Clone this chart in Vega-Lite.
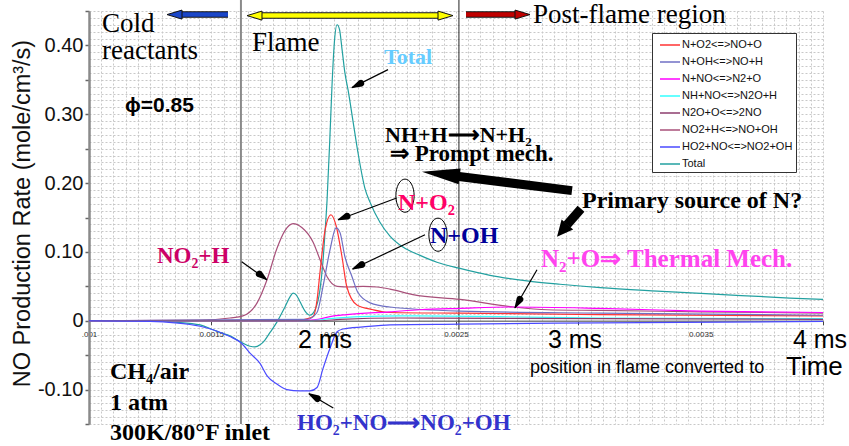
{
  "$schema": "https://vega.github.io/schema/vega-lite/v6.json",
  "width": 734,
  "height": 413,
  "autosize": {"type": "none"},
  "padding": {"left": 89, "top": 11, "right": 26, "bottom": 22},
  "background": "white",
  "config": {"view": {"stroke": null}},
  "datasets": {
    "curves": [
      {"s":"Total","t":0.001,"v":0},{"s":"Total","t":0.00125,"v":0},{"s":"Total","t":0.001351,"v":-0.002},{"s":"Total","t":0.001454,"v":-0.006},{"s":"Total","t":0.001507,"v":-0.013},{"s":"Total","t":0.001535,"v":-0.017},{"s":"Total","t":0.001576,"v":-0.022},{"s":"Total","t":0.001621,"v":-0.031},{"s":"Total","t":0.001658,"v":-0.037},{"s":"Total","t":0.001678,"v":-0.038},{"s":"Total","t":0.001699,"v":-0.035},{"s":"Total","t":0.001719,"v":-0.028},{"s":"Total","t":0.00174,"v":-0.017},{"s":"Total","t":0.001768,"v":-0.002},{"s":"Total","t":0.001801,"v":0.02},{"s":"Total","t":0.001822,"v":0.035},{"s":"Total","t":0.001834,"v":0.04},{"s":"Total","t":0.001846,"v":0.038},{"s":"Total","t":0.001862,"v":0.028},{"s":"Total","t":0.001883,"v":0.014},{"s":"Total","t":0.001903,"v":0.008},{"s":"Total","t":0.001924,"v":0.016},{"s":"Total","t":0.001944,"v":0.045},{"s":"Total","t":0.001956,"v":0.085},{"s":"Total","t":0.001965,"v":0.13},{"s":"Total","t":0.001973,"v":0.175},{"s":"Total","t":0.001985,"v":0.27},{"s":"Total","t":0.001993,"v":0.34},{"s":"Total","t":0.002003,"v":0.405},{"s":"Total","t":0.002014,"v":0.43},{"s":"Total","t":0.002024,"v":0.423},{"s":"Total","t":0.002034,"v":0.395},{"s":"Total","t":0.002046,"v":0.36},{"s":"Total","t":0.002059,"v":0.335},{"s":"Total","t":0.002079,"v":0.29},{"s":"Total","t":0.002099,"v":0.245},{"s":"Total","t":0.002128,"v":0.192},{"s":"Total","t":0.002149,"v":0.172},{"s":"Total","t":0.002189,"v":0.143},{"s":"Total","t":0.00223,"v":0.123},{"s":"Total","t":0.002283,"v":0.107},{"s":"Total","t":0.002353,"v":0.095},{"s":"Total","t":0.002422,"v":0.085},{"s":"Total","t":0.002516,"v":0.076},{"s":"Total","t":0.002639,"v":0.066},{"s":"Total","t":0.00279,"v":0.058},{"s":"Total","t":0.002925,"v":0.053},{"s":"Total","t":0.003089,"v":0.048},{"s":"Total","t":0.003322,"v":0.043},{"s":"Total","t":0.003591,"v":0.038},{"s":"Total","t":0.003865,"v":0.033},{"s":"Total","t":0.004,"v":0.031},

      {"s":"NO2+H<=>NO+OH","t":0.001,"v":0},{"s":"NO2+H<=>NO+OH","t":0.001454,"v":0.001},{"s":"NO2+H<=>NO+OH","t":0.001576,"v":0.004},{"s":"NO2+H<=>NO+OH","t":0.001629,"v":0.007},{"s":"NO2+H<=>NO+OH","t":0.001687,"v":0.026},{"s":"NO2+H<=>NO+OH","t":0.001728,"v":0.06},{"s":"NO2+H<=>NO+OH","t":0.001768,"v":0.105},{"s":"NO2+H<=>NO+OH","t":0.001801,"v":0.131},{"s":"NO2+H<=>NO+OH","t":0.001834,"v":0.141},{"s":"NO2+H<=>NO+OH","t":0.001871,"v":0.135},{"s":"NO2+H<=>NO+OH","t":0.001916,"v":0.114},{"s":"NO2+H<=>NO+OH","t":0.001944,"v":0.089},{"s":"NO2+H<=>NO+OH","t":0.001973,"v":0.064},{"s":"NO2+H<=>NO+OH","t":0.002014,"v":0.05},{"s":"NO2+H<=>NO+OH","t":0.002067,"v":0.049},{"s":"NO2+H<=>NO+OH","t":0.00212,"v":0.05},{"s":"NO2+H<=>NO+OH","t":0.002177,"v":0.049},{"s":"NO2+H<=>NO+OH","t":0.00223,"v":0.046},{"s":"NO2+H<=>NO+OH","t":0.002324,"v":0.038},{"s":"NO2+H<=>NO+OH","t":0.002516,"v":0.031},{"s":"NO2+H<=>NO+OH","t":0.002733,"v":0.02},{"s":"NO2+H<=>NO+OH","t":0.002872,"v":0.016},{"s":"NO2+H<=>NO+OH","t":0.003089,"v":0.015},{"s":"NO2+H<=>NO+OH","t":0.003497,"v":0.013},{"s":"NO2+H<=>NO+OH","t":0.004,"v":0.011},

      {"s":"N+O2<=>NO+O","t":0.001,"v":0},{"s":"N+O2<=>NO+O","t":0.00185,"v":0},{"s":"N+O2<=>NO+O","t":0.001883,"v":0.002},{"s":"N+O2<=>NO+O","t":0.001916,"v":0.006},{"s":"N+O2<=>NO+O","t":0.001932,"v":0.03},{"s":"N+O2<=>NO+O","t":0.001944,"v":0.07},{"s":"N+O2<=>NO+O","t":0.001965,"v":0.132},{"s":"N+O2<=>NO+O","t":0.001989,"v":0.154},{"s":"N+O2<=>NO+O","t":0.00201,"v":0.138},{"s":"N+O2<=>NO+O","t":0.002034,"v":0.093},{"s":"N+O2<=>NO+O","t":0.002054,"v":0.049},{"s":"N+O2<=>NO+O","t":0.002095,"v":0.023},{"s":"N+O2<=>NO+O","t":0.002161,"v":0.016},{"s":"N+O2<=>NO+O","t":0.00223,"v":0.012},{"s":"N+O2<=>NO+O","t":0.002516,"v":0.011},{"s":"N+O2<=>NO+O","t":0.003089,"v":0.009},{"s":"N+O2<=>NO+O","t":0.004,"v":0.007},

      {"s":"N+OH<=>NO+H","t":0.001,"v":0},{"s":"N+OH<=>NO+H","t":0.001891,"v":0.002},{"s":"N+OH<=>NO+H","t":0.001932,"v":0.012},{"s":"N+OH<=>NO+H","t":0.001956,"v":0.049},{"s":"N+OH<=>NO+H","t":0.001985,"v":0.103},{"s":"N+OH<=>NO+H","t":0.00201,"v":0.135},{"s":"N+OH<=>NO+H","t":0.002026,"v":0.128},{"s":"N+OH<=>NO+H","t":0.002046,"v":0.093},{"s":"N+OH<=>NO+H","t":0.002075,"v":0.064},{"s":"N+OH<=>NO+H","t":0.002099,"v":0.041},{"s":"N+OH<=>NO+H","t":0.002149,"v":0.026},{"s":"N+OH<=>NO+H","t":0.00223,"v":0.02},{"s":"N+OH<=>NO+H","t":0.002516,"v":0.014},{"s":"N+OH<=>NO+H","t":0.003089,"v":0.011},{"s":"N+OH<=>NO+H","t":0.004,"v":0.008},

      {"s":"N+NO<=>N2+O","t":0.001,"v":0},{"s":"N+NO<=>N2+O","t":0.001862,"v":0},{"s":"N+NO<=>N2+O","t":0.001936,"v":0.002},{"s":"N+NO<=>N2+O","t":0.001985,"v":0.006},{"s":"N+NO<=>N2+O","t":0.002054,"v":0.009},{"s":"N+NO<=>N2+O","t":0.00223,"v":0.013},{"s":"N+NO<=>N2+O","t":0.002353,"v":0.016},{"s":"N+NO<=>N2+O","t":0.002516,"v":0.018},{"s":"N+NO<=>N2+O","t":0.002733,"v":0.02},{"s":"N+NO<=>N2+O","t":0.003089,"v":0.018},{"s":"N+NO<=>N2+O","t":0.003497,"v":0.014},{"s":"N+NO<=>N2+O","t":0.004,"v":0.012},

      {"s":"NH+NO<=>N2O+H","t":0.001,"v":0},{"s":"NH+NO<=>N2O+H","t":0.001903,"v":0},{"s":"NH+NO<=>N2O+H","t":0.001985,"v":0.003},{"s":"NH+NO<=>N2O+H","t":0.002108,"v":0.006},{"s":"NH+NO<=>N2O+H","t":0.002271,"v":0.007},{"s":"NH+NO<=>N2O+H","t":0.00268,"v":0.006},{"s":"NH+NO<=>N2O+H","t":0.003089,"v":0.004},{"s":"NH+NO<=>N2O+H","t":0.004,"v":0.003},

      {"s":"N2O+O<=>2NO","t":0.001,"v":0},{"s":"N2O+O<=>2NO","t":0.001944,"v":0},{"s":"N2O+O<=>2NO","t":0.002026,"v":0.002},{"s":"N2O+O<=>2NO","t":0.002271,"v":0.004},{"s":"N2O+O<=>2NO","t":0.003089,"v":0.003},{"s":"N2O+O<=>2NO","t":0.004,"v":0.002},

      {"s":"HO2+NO<=>NO2+OH","t":0.001,"v":0},{"s":"HO2+NO<=>NO2+OH","t":0.00125,"v":-0.001},{"s":"HO2+NO<=>NO2+OH","t":0.001351,"v":-0.003},{"s":"HO2+NO<=>NO2+OH","t":0.001454,"v":-0.008},{"s":"HO2+NO<=>NO2+OH","t":0.001507,"v":-0.013},{"s":"HO2+NO<=>NO2+OH","t":0.001576,"v":-0.023},{"s":"HO2+NO<=>NO2+OH","t":0.001621,"v":-0.032},{"s":"HO2+NO<=>NO2+OH","t":0.001658,"v":-0.047},{"s":"HO2+NO<=>NO2+OH","t":0.001699,"v":-0.062},{"s":"HO2+NO<=>NO2+OH","t":0.001728,"v":-0.08},{"s":"HO2+NO<=>NO2+OH","t":0.001768,"v":-0.092},{"s":"HO2+NO<=>NO2+OH","t":0.001809,"v":-0.1},{"s":"HO2+NO<=>NO2+OH","t":0.001862,"v":-0.102},{"s":"HO2+NO<=>NO2+OH","t":0.001903,"v":-0.102},{"s":"HO2+NO<=>NO2+OH","t":0.001932,"v":-0.097},{"s":"HO2+NO<=>NO2+OH","t":0.001956,"v":-0.07},{"s":"HO2+NO<=>NO2+OH","t":0.001985,"v":-0.04},{"s":"HO2+NO<=>NO2+OH","t":0.002014,"v":-0.016},{"s":"HO2+NO<=>NO2+OH","t":0.002038,"v":-0.012},{"s":"HO2+NO<=>NO2+OH","t":0.00212,"v":-0.009},{"s":"HO2+NO<=>NO2+OH","t":0.00223,"v":-0.006},{"s":"HO2+NO<=>NO2+OH","t":0.002516,"v":-0.005},{"s":"HO2+NO<=>NO2+OH","t":0.003089,"v":-0.003},{"s":"HO2+NO<=>NO2+OH","t":0.004,"v":-0.001}
    ],
    "shafts": [
      {"t":0.0020749,"v":0.3387,"t2":0.0022221,"v2":0.3648},
      {"t":0.0020189,"v":0.1468,"t2":0.0022576,"v2":0.1783},
      {"t":0.0020778,"v":0.0751,"t2":0.0023733,"v2":0.125},
      {"t":0.0017263,"v":0.0596,"t2":0.0016241,"v2":0.0858},
      {"t":0.0018992,"v":-0.1061,"t2":0.0019985,"v2":-0.1269},
      {"t":0.0027411,"v":0.0189,"t2":0.0028311,"v2":0.0741}
    ],
    "heads": [
      {"id":"a1","p":"tip","t":0.0020749,"v":0.3387},{"id":"a1","p":"base","t":0.0021103,"v":0.3449},
      {"id":"a2","p":"tip","t":0.0020189,"v":0.1468},{"id":"a2","p":"base","t":0.0020543,"v":0.1517},
      {"id":"a3","p":"tip","t":0.0020778,"v":0.0751},{"id":"a3","p":"base","t":0.0021146,"v":0.0816},
      {"id":"a4","p":"tip","t":0.0017263,"v":0.0596},{"id":"a4","p":"base","t":0.0016964,"v":0.0678},
      {"id":"a5","p":"tip","t":0.0018992,"v":-0.1061},{"id":"a5","p":"base","t":0.001933,"v":-0.1131},
      {"id":"a6","p":"tip","t":0.0027411,"v":0.0189},{"id":"a6","p":"base","t":0.0027608,"v":0.0309}
    ],
    "bigshafts": [
      {"t":0.0025041,"v":0.2099,"t2":0.0029741,"v2":0.189},
      {"t":0.0029537,"v":0.1395,"t2":0.0030109,"v2":0.1628}
    ],
    "topshafts": [
      {"id":"blue","t":0.001376,"v":0.4448,"t2":0.0015681,"v2":0.4448},
      {"id":"yellow","t":0.001703,"v":0.4433,"t2":0.0024305,"v2":0.4433},
      {"id":"red","t":0.0025409,"v":0.4448,"t2":0.0027452,"v2":0.4448}
    ]
  },
  "encoding": {
    "x": {
      "field": "t", "type": "quantitative",
      "scale": {"domain": [0.001, 0.004], "nice": false, "zero": false},
      "axis": {
        "orient": "bottom", "offset": -103.25, "tickCount": 60, "title": null,
        "grid": true, "gridColor": "#c8c8c8", "gridDash": [2, 2], "gridWidth": 1,
        "domainColor": "#808080", "domainWidth": 1.5,
        "tickColor": "#444", "tickWidth": 1,
        "tickSize": {"condition": {"test": "abs(round(datum.value*20000)) % 10 == 0", "value": 4}, "value": 0},
        "labelExpr": "abs(datum.value-0.001)<1e-9 ? '.001' : abs(datum.value-0.0015)<1e-9 ? '0.0015' : abs(datum.value-0.002)<1e-9 ? '0.002' : abs(datum.value-0.0025)<1e-9 ? '0.0025' : abs(datum.value-0.0035)<1e-9 ? '0.0035' : ''",
        "labelFont": "Liberation Sans", "labelFontSize": 8, "labelColor": "#333",
        "labelPadding": 6, "labelFlush": false, "labelOverlap": false
      }
    },
    "y": {
      "field": "v", "type": "quantitative",
      "scale": {"domain": [-0.15, 0.45], "nice": false, "zero": false},
      "axis": {
        "tickCount": 60,
        "grid": true, "gridColor": "#c8c8c8", "gridDash": [2, 2], "gridWidth": 1,
        "domainColor": "#8a8a8a", "domainWidth": 2.5,
        "tickColor": "#666", "tickWidth": 1.5,
        "tickSize": {"condition": {"test": "abs(round(datum.value*100)) % 5 == 0", "value": 4}, "value": 0},
        "labelExpr": "abs(datum.value) < 1e-9 ? '0' : (abs(round(datum.value*100)) % 10 == 0 ? replace(format(datum.value, '.2f'), '\u2212', '-') : '')",
        "labelFont": "Liberation Sans", "labelFontSize": 20, "labelColor": "#111",
        "labelPadding": 2, "labelOverlap": false, "labelFlush": false,
        "title": "NO Production Rate (mole/cm³/s)",
        "titleFont": "Liberation Sans", "titleFontSize": 23.5, "titleFontWeight": "normal", "titleColor": "#111",
        "titleX": -67, "titleY": 202, "titleAngle": -90, "titleBaseline": "middle", "titleAlign": "center"
      }
    }
  },
  "layer": [
    {
      "data": {"values": [{"t": 0.001621, "v": -0.15, "v2": 0.466}]},
      "mark": {"type": "rule", "color": "#8a8a8a", "strokeWidth": 2},
      "encoding": {"y2": {"field": "v2"}}
    },
    {
      "data": {"values": [{"t": 0.002512, "v": -0.013, "v2": 0.466}]},
      "mark": {"type": "rule", "color": "#222", "strokeWidth": 1},
      "encoding": {"y2": {"field": "v2"}}
    },
    {
      "data": {"name": "curves"},
      "mark": {"type": "line", "strokeWidth": 1.2, "interpolate": "monotone"},
      "encoding": {
        "color": {
          "field": "s", "type": "nominal",
          "scale": {
            "domain": ["N+O2<=>NO+O", "N+OH<=>NO+H", "N+NO<=>N2+O", "NH+NO<=>N2O+H", "N2O+O<=>2NO", "NO2+H<=>NO+OH", "HO2+NO<=>NO2+OH", "Total"],
            "range": ["#ff3333", "#6f6fc4", "#ff00ff", "#33ffff", "#8c3c6e", "#a8507a", "#4a4aff", "#22a0a0"]
          },
          "legend": {
            "orient": "none", "legendX": 563, "legendY": 22, "title": null,
            "symbolType": "M-1.25,0H1.25", "symbolSize": 256, "symbolStrokeWidth": 1.5,
            "labelFont": "Liberation Sans", "labelFontSize": 11, "labelColor": "#111",
            "strokeColor": "#333", "fillColor": "white", "padding": 3, "rowPadding": 3,
            "labelOffset": 3, "symbolOffset": 6
          }
        }
      }
    },
    {
      "data": {"name": "shafts"},
      "mark": {"type": "rule", "color": "black", "strokeWidth": 1.2},
      "encoding": {"x2": {"field": "t2"}, "y2": {"field": "v2"}}
    },
    {
      "data": {"name": "heads"},
      "mark": {"type": "trail", "color": "black"},
      "encoding": {
        "detail": {"field": "id"},
        "size": {"field": "p", "type": "ordinal", "scale": {"type": "point", "padding": 0, "domain": ["tip", "base"], "range": [0, 7]}, "legend": null}
      }
    },
    {
      "data": {"name": "bigshafts"},
      "mark": {"type": "rule", "color": "black", "strokeWidth": 9, "strokeCap": "butt"},
      "encoding": {"x2": {"field": "t2"}, "y2": {"field": "v2"}}
    },
    {
      "data": {"values": [{"t": 0.0024379, "v": 0.2131}]},
      "mark": {"type": "point", "shape": "M1,0L-1,-0.42L-1,0.42Z", "size": 1444, "angle": 187.2, "filled": true, "color": "black", "opacity": 1, "strokeWidth": 0}
    },
    {
      "data": {"values": [{"t": 0.002934, "v": 0.131}]},
      "mark": {"type": "point", "shape": "M1,0L-1,-0.95L-1,0.95Z", "size": 256, "angle": 130.4, "filled": true, "color": "black", "opacity": 1, "strokeWidth": 0}
    },
    {
      "data": {"name": "topshafts"},
      "mark": {"type": "rule", "color": "#111", "strokeWidth": 6.5, "strokeCap": "butt"},
      "encoding": {"x2": {"field": "t2"}, "y2": {"field": "v2"}}
    },
    {
      "data": {"name": "topshafts"},
      "transform": [{"filter": "datum.id == 'blue'"}],
      "mark": {"type": "rule", "color": "#1a46c8", "strokeWidth": 4.5, "strokeCap": "butt"},
      "encoding": {"x2": {"field": "t2"}, "y2": {"field": "v2"}}
    },
    {
      "data": {"name": "topshafts"},
      "transform": [{"filter": "datum.id == 'yellow'"}],
      "mark": {"type": "rule", "color": "#ffff00", "strokeWidth": 4.5, "strokeCap": "butt"},
      "encoding": {"x2": {"field": "t2"}, "y2": {"field": "v2"}}
    },
    {
      "data": {"name": "topshafts"},
      "transform": [{"filter": "datum.id == 'red'"}],
      "mark": {"type": "rule", "color": "#c00000", "strokeWidth": 4.5, "strokeCap": "butt"},
      "encoding": {"x2": {"field": "t2"}, "y2": {"field": "v2"}}
    },
    {
      "data": {"values": [{"t": 0.0013495, "v": 0.4448}]},
      "mark": {"type": "point", "shape": "M1,0L-1,-0.6L-1,0.6Z", "size": 225, "angle": 180, "filled": true, "fill": "#1a46c8", "stroke": "#111", "strokeWidth": 1, "opacity": 1}
    },
    {
      "data": {"values": [{"t": 0.0016764, "v": 0.4433}]},
      "mark": {"type": "point", "shape": "M1,0L-1,-0.6L-1,0.6Z", "size": 225, "angle": 180, "filled": true, "fill": "#ffff00", "stroke": "#111", "strokeWidth": 1, "opacity": 1}
    },
    {
      "data": {"values": [{"t": 0.0024571, "v": 0.4433}]},
      "mark": {"type": "point", "shape": "M1,0L-1,-0.6L-1,0.6Z", "size": 225, "angle": 0, "filled": true, "fill": "#ffff00", "stroke": "#111", "strokeWidth": 1, "opacity": 1}
    },
    {
      "data": {"values": [{"t": 0.0027718, "v": 0.4448}]},
      "mark": {"type": "point", "shape": "M1,0L-1,-0.6L-1,0.6Z", "size": 225, "angle": 0, "filled": true, "fill": "#c00000", "stroke": "#111", "strokeWidth": 1, "opacity": 1}
    },
    {
      "data": {"values": [{"t": 0.0022916, "v": 0.1817}, {"t": 0.0024264, "v": 0.125}]},
      "mark": {"type": "point", "shape": "M-0.55,0A0.55,1,0,1,0,0.55,0A0.55,1,0,1,0,-0.55,0Z", "size": 1100, "filled": false, "stroke": "black", "strokeWidth": 1, "opacity": 1}
    },
    {
      "data": {"values": [
        {"label": "Cold", "t": 0.0010531, "v": 0.4201},
        {"label": "reactants", "t": 0.0010531, "v": 0.3808},
        {"label": "Flame", "t": 0.0016662, "v": 0.3924},
        {"label": "Post-flame region", "t": 0.0028147, "v": 0.4331}
      ]},
      "mark": {"type": "text", "font": "Liberation Serif", "fontSize": 27, "color": "black", "align": "left", "baseline": "alphabetic"},
      "encoding": {"text": {"field": "label"}}
    },
    {
      "data": {"values": [{"label": "ϕ=0.85", "t": 0.0011471, "v": 0.3038}]},
      "mark": {"type": "text", "font": "Liberation Sans", "fontSize": 21, "fontWeight": "bold", "color": "black", "align": "left", "baseline": "alphabetic"},
      "encoding": {"text": {"field": "label"}}
    },
    {
      "data": {"values": [
        {"label": "NH+H⟶N+H₂", "t": 0.0022098, "v": 0.2602}
      ]},
      "mark": {"type": "text", "font": "Liberation Serif", "fontSize": 22, "fontWeight": "bold", "color": "black", "align": "left", "baseline": "alphabetic"},
      "encoding": {"text": {"field": "label"}}
    },
    {
      "data": {"values": [
        {"label": "⇒ Prompt mech.", "t": 0.0022302, "v": 0.2326}
      ]},
      "mark": {"type": "text", "font": "Liberation Serif", "fontSize": 23, "fontWeight": "bold", "color": "black", "align": "left", "baseline": "alphabetic"},
      "encoding": {"text": {"field": "label"}}
    },
    {
      "data": {"values": [
        {"label": "Primary source of N?", "t": 0.003015, "v": 0.1642}
      ]},
      "mark": {"type": "text", "font": "Liberation Serif", "fontSize": 24, "fontWeight": "bold", "color": "black", "align": "left", "baseline": "alphabetic"},
      "encoding": {"text": {"field": "label"}}
    },
    {
      "data": {"values": [
        {"label": "CH₄/air", "t": 0.0010858, "v": -0.0843},
        {"label": "1 atm", "t": 0.0010858, "v": -0.1294},
        {"label": "300K/80°F inlet", "t": 0.0010858, "v": -0.173}
      ]},
      "mark": {"type": "text", "font": "Liberation Serif", "fontSize": 24, "fontWeight": "bold", "color": "black", "align": "left", "baseline": "alphabetic"},
      "encoding": {"text": {"field": "label"}}
    },
    {
      "data": {"values": [{"label": "Total", "t": 0.0022057, "v": 0.3735}]},
      "mark": {"type": "text", "font": "Liberation Serif", "fontSize": 22, "fontWeight": "bold", "color": "#66ccff", "align": "left", "baseline": "alphabetic"},
      "encoding": {"text": {"field": "label"}}
    },
    {
      "data": {"values": [{"label": "N+O₂", "t": 0.002263, "v": 0.1613}]},
      "mark": {"type": "text", "font": "Liberation Serif", "fontSize": 24, "fontWeight": "bold", "color": "#ff0066", "align": "left", "baseline": "alphabetic"},
      "encoding": {"text": {"field": "label"}}
    },
    {
      "data": {"values": [{"label": "N+OH", "t": 0.0023937, "v": 0.1134}]},
      "mark": {"type": "text", "font": "Liberation Serif", "fontSize": 24, "fontWeight": "bold", "color": "#000099", "align": "left", "baseline": "alphabetic"},
      "encoding": {"text": {"field": "label"}}
    },
    {
      "data": {"values": [{"label": "N₂+O⇒ Thermal Mech.", "t": 0.0028474, "v": 0.0785}]},
      "mark": {"type": "text", "font": "Liberation Serif", "fontSize": 25, "fontWeight": "bold", "color": "#ff44ee", "align": "left", "baseline": "alphabetic"},
      "encoding": {"text": {"field": "label"}}
    },
    {
      "data": {"values": [{"label": "NO₂+H", "t": 0.0012779, "v": 0.0843}]},
      "mark": {"type": "text", "font": "Liberation Serif", "fontSize": 23, "fontWeight": "bold", "color": "#cc0066", "align": "left", "baseline": "alphabetic"},
      "encoding": {"text": {"field": "label"}}
    },
    {
      "data": {"values": [{"label": "HO₂+NO⟶NO₂+OH", "t": 0.0018501, "v": -0.1584}]},
      "mark": {"type": "text", "font": "Liberation Serif", "fontSize": 23, "fontWeight": "bold", "color": "#3333cc", "align": "left", "baseline": "alphabetic"},
      "encoding": {"text": {"field": "label"}}
    },
    {
      "data": {"values": [{"label": "position in flame converted to", "t": 0.0028025, "v": -0.0756}]},
      "mark": {"type": "text", "font": "Liberation Sans", "fontSize": 18, "color": "black", "align": "left", "baseline": "alphabetic"},
      "encoding": {"text": {"field": "label"}}
    },
    {
      "data": {"values": [{"label": "Time", "t": 0.0038488, "v": -0.0785}]},
      "mark": {"type": "text", "font": "Liberation Sans", "fontSize": 26, "color": "black", "align": "left", "baseline": "alphabetic"},
      "encoding": {"text": {"field": "label"}}
    },
    {
      "data": {"values": [
        {"label": "2 ms", "t": 0.0019646, "v": -0.0392},
        {"label": "3 ms", "t": 0.0029864, "v": -0.0392},
        {"label": "4 ms", "t": 0.0039877, "v": -0.0392}
      ]},
      "mark": {"type": "text", "font": "Liberation Sans", "fontSize": 25, "color": "black", "align": "center", "baseline": "alphabetic"},
      "encoding": {"text": {"field": "label"}}
    }
  ],
  "resolve": {"scale": {"size": "independent"}}
}
